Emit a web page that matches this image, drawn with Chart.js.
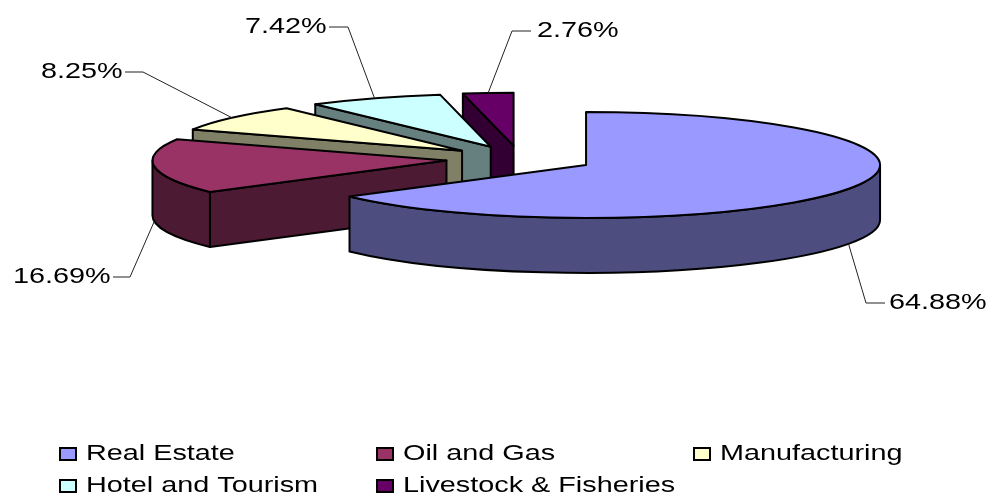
<!DOCTYPE html>
<html>
<head>
<meta charset="utf-8">
<style>
    html, body { margin: 0; padding: 0; background: #fff; }
    canvas { display: block; }
</style>
<script src="https://cdn.jsdelivr.net/npm/chart.js@4"></script>
</head>
<body>
<canvas id="chart" width="988" height="495"></canvas>
<script>
const sectors = ["Real Estate", "Oil and Gas", "Manufacturing", "Hotel and Tourism", "Livestock & Fisheries"];
const shares = [64.88, 16.69, 8.25, 7.42, 2.76];

const topColors = ["#9999ff", "#993366", "#ffffcc", "#ccffff", "#660066"];
const wallColors = ["#4d4d80", "#4d1a33", "#808066", "#668080", "#330033"];

// pie look: tilt, thickness, explode distance
const tilt = 0.18;
const depth = 55;
const explode = 74;

// data label layout: leader elbow, leader end, text start, baseline
const labelLayout = [
    { elbow: [866, 303], end: [885, 303], x: 889, y: 309, front: true },
    { elbow: [130, 277], end: [113, 277], x: 13, y: 283, front: true },
    { elbow: [143, 72], end: [125, 72], x: 41, y: 78, front: false },
    { elbow: [348, 27], end: [329, 27], x: 245, y: 33, front: false },
    { elbow: [512, 31], end: [531, 31], x: 537, y: 37, front: false }
];

// legend layout
const legendCols = [60, 377, 694];
const legendRows = [460, 492];
const textStretch = 1.28;

function drawStretchedText(ctx, text, x, y) {
    ctx.save();
    ctx.font = "22.5px 'Liberation Sans'";
    ctx.fillStyle = "#000";
    ctx.textAlign = "left";
    ctx.textBaseline = "alphabetic";
    ctx.translate(x, y);
    ctx.scale(textStretch, 1);
    ctx.fillText(text, 0, 0);
    ctx.restore();
}

function sliceGeometry(arc) {
    const mid = (arc.startAngle + arc.endAngle) / 2;
    return {
        cx: arc.x + Math.cos(mid) * explode,
        cy: arc.y + Math.sin(mid) * explode * tilt,
        r: arc.outerRadius,
        ry: arc.outerRadius * tilt,
        mid
    };
}

// side walls + top for one slice
function drawSlice(ctx, arc, wall) {
    const { cx, cy, r, ry } = sliceGeometry(arc);
    const start = arc.startAngle;
    const end = arc.endAngle;
    const px = a => cx + Math.cos(a) * r;
    const py = a => cy + Math.sin(a) * ry;

    ctx.save();
    ctx.lineWidth = 2;
    ctx.strokeStyle = "#000";
    ctx.lineJoin = "round";
    ctx.fillStyle = wall;

    // radial cut faces, only the ones looking at the viewer
    const cuts = [];
    if (Math.cos(start) < 0) cuts.push(start);
    if (Math.cos(end) > 0) cuts.push(end);
    cuts.forEach(a => {
        ctx.beginPath();
        ctx.moveTo(cx, cy);
        ctx.lineTo(px(a), py(a));
        ctx.lineTo(px(a), py(a) + depth);
        ctx.lineTo(cx, cy + depth);
        ctx.closePath();
        ctx.fill();
        ctx.stroke();
    });

    // outer rim, front half only
    const from = Math.max(start, 0);
    const to = Math.min(end, Math.PI);
    if (to > from) {
        ctx.beginPath();
        ctx.ellipse(cx, cy, r, ry, 0, from, to);
        ctx.lineTo(px(to), py(to) + depth);
        ctx.ellipse(cx, cy + depth, r, ry, 0, to, from, true);
        ctx.closePath();
        ctx.fill();
        ctx.stroke();
    }
    ctx.restore();

    // top face comes from the arc element itself
    ctx.save();
    ctx.translate(cx, cy);
    ctx.scale(1, tilt);
    ctx.translate(-arc.x, -arc.y);
    arc.draw(ctx);
    ctx.restore();

    ctx.save();
    ctx.lineWidth = 2;
    ctx.strokeStyle = "#000";
    ctx.lineJoin = "round";
    ctx.beginPath();
    ctx.moveTo(cx, cy);
    ctx.ellipse(cx, cy, r, ry, 0, start, end);
    ctx.closePath();
    ctx.stroke();
    ctx.restore();
}

const pie3d = {
    id: "pie3d",
    beforeDatasetDraw(chart, args) {
        const ctx = chart.ctx;
        const arcs = args.meta.data;
        for (let i = arcs.length - 1; i >= 0; i--) {
            drawSlice(ctx, arcs[i], wallColors[i]);
        }
        return false;
    },
    afterDraw(chart) {
        const ctx = chart.ctx;
        const arcs = chart.getDatasetMeta(0).data;

        // data labels with leader lines
        arcs.forEach((arc, i) => {
            const { cx, cy, r, ry, mid } = sliceGeometry(arc);
            const layout = labelLayout[i];
            const ax = cx + Math.cos(mid) * r;
            const ay = cy + Math.sin(mid) * ry + (layout.front ? depth : 0);

            ctx.save();
            ctx.strokeStyle = "#222";
            ctx.lineWidth = 1;
            ctx.beginPath();
            ctx.moveTo(ax, ay);
            ctx.lineTo(layout.elbow[0], layout.elbow[1]);
            ctx.lineTo(layout.end[0], layout.end[1]);
            ctx.stroke();
            ctx.restore();

            drawStretchedText(ctx, shares[i].toFixed(2) + "%", layout.x, layout.y);
        });

        // legend
        sectors.forEach((name, i) => {
            const x = legendCols[i % 3];
            const y = legendRows[Math.floor(i / 3)];
            ctx.save();
            ctx.fillStyle = topColors[i];
            ctx.strokeStyle = "#000";
            ctx.lineWidth = 2;
            ctx.fillRect(x, y - 12, 16, 12);
            ctx.strokeRect(x, y - 12, 16, 12);
            ctx.restore();
            drawStretchedText(ctx, name, x + 26, y);
        });
    }
};

new Chart(document.getElementById("chart"), {
    type: "pie",
    data: {
        labels: sectors,
        datasets: [{
            data: shares,
            backgroundColor: topColors,
            borderWidth: 0,
            radius: 294,
            clip: false
        }]
    },
    options: {
        responsive: false,
        animation: false,
        events: [],
        // puts the pie centre at 520,159
        layout: { padding: { left: 52, right: 0, top: 0, bottom: 177 } },
        plugins: {
            legend: { display: false },
            tooltip: { enabled: false }
        }
    },
    plugins: [pie3d]
});
</script>
</body>
</html>
